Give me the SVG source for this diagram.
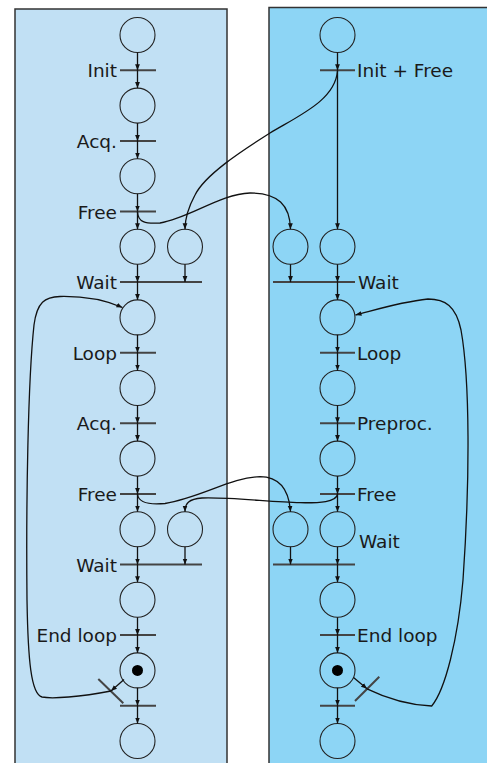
<svg xmlns="http://www.w3.org/2000/svg" width="487" height="763" viewBox="0 0 487 763">
<defs>
<marker id="ah" viewBox="0 0 10 10" refX="10" refY="5" markerWidth="6" markerHeight="6" markerUnits="userSpaceOnUse" orient="auto"><path d="M0,1 L10,5 L0,9 z" fill="#111"/></marker>
<style>
.pl{fill:none;stroke:#222;stroke-width:1.1}
.tr{stroke:#444;stroke-width:2;fill:none}
.arc{stroke:#111;stroke-width:1.3;fill:none;marker-end:url(#ah)}
.cv{stroke:#111;stroke-width:1.4;fill:none}
.lb{font-family:"DejaVu Sans",sans-serif;font-size:18.5px;fill:#1a1a1a}
.le{text-anchor:end}
.tok{fill:#000}
</style>
</defs>
<rect x="15" y="9" width="212" height="770" fill="#c1e0f4" stroke="#333" stroke-width="1.5"/>
<rect x="269" y="7.5" width="230" height="770" fill="#8dd5f5" stroke="#333" stroke-width="1.5"/>

<g id="left-places">
<circle id="L1" class="pl" cx="137.5" cy="35" r="17.5"/>
<circle id="L2" class="pl" cx="137.5" cy="105.6" r="17.5"/>
<circle id="L3" class="pl" cx="137.5" cy="176.2" r="17.5"/>
<circle id="L4" class="pl" cx="137.5" cy="246.8" r="17.5"/>
<circle id="L4b" class="pl" cx="185" cy="246.8" r="17.5"/>
<circle id="L5" class="pl" cx="137.5" cy="317.4" r="17.5"/>
<circle id="L6" class="pl" cx="137.5" cy="388" r="17.5"/>
<circle id="L7" class="pl" cx="137.5" cy="458.6" r="17.5"/>
<circle id="L8" class="pl" cx="137.5" cy="529.2" r="17.5"/>
<circle id="L8b" class="pl" cx="185" cy="529.2" r="17.5"/>
<circle id="L9" class="pl" cx="137.5" cy="599.8" r="17.5"/>
<g id="L10"><circle class="pl" cx="137.5" cy="670.4" r="17.5"/><circle class="tok" cx="137.5" cy="670.4" r="5.5"/></g>
<circle id="L11" class="pl" cx="137.5" cy="741" r="17.5"/>
</g>

<g id="right-places">
<circle id="R1" class="pl" cx="337.5" cy="35" r="17.5"/>
<circle id="R4" class="pl" cx="337.5" cy="246.8" r="17.5"/>
<circle id="R4b" class="pl" cx="290.5" cy="246.8" r="17.5"/>
<circle id="R5" class="pl" cx="337.5" cy="317.4" r="17.5"/>
<circle id="R6" class="pl" cx="337.5" cy="388" r="17.5"/>
<circle id="R7" class="pl" cx="337.5" cy="458.6" r="17.5"/>
<circle id="R8" class="pl" cx="337.5" cy="529.2" r="17.5"/>
<circle id="R8b" class="pl" cx="290.5" cy="529.2" r="17.5"/>
<circle id="R9" class="pl" cx="337.5" cy="599.8" r="17.5"/>
<g id="R10"><circle class="pl" cx="337.5" cy="670.4" r="17.5"/><circle class="tok" cx="337.5" cy="670.4" r="5.5"/></g>
<circle id="R11" class="pl" cx="337.5" cy="741" r="17.5"/>
</g>

<g id="left-transitions">
<g id="tInit"><line class="tr" x1="120" y1="70.3" x2="156" y2="70.3"/><text class="lb le" x="117" y="77.3">Init</text></g>
<g id="tAcq1"><line class="tr" x1="120" y1="140.9" x2="156" y2="140.9"/><text class="lb le" x="117" y="147.9">Acq.</text></g>
<g id="tFree1"><line class="tr" x1="120" y1="211.5" x2="156" y2="211.5"/><text class="lb le" x="117" y="218.5">Free</text></g>
<g id="tWait1"><line class="tr" x1="120" y1="282.1" x2="202" y2="282.1"/><text class="lb le" x="117" y="289.1">Wait</text></g>
<g id="tLoop"><line class="tr" x1="120" y1="352.7" x2="156" y2="352.7"/><text class="lb le" x="117" y="359.7">Loop</text></g>
<g id="tAcq2"><line class="tr" x1="120" y1="423.3" x2="156" y2="423.3"/><text class="lb le" x="117" y="430.3">Acq.</text></g>
<g id="tFree2"><line class="tr" x1="120" y1="493.9" x2="156" y2="493.9"/><text class="lb le" x="117" y="500.9">Free</text></g>
<g id="tWait2"><line class="tr" x1="120" y1="564.5" x2="202" y2="564.5"/><text class="lb le" x="117" y="571.5">Wait</text></g>
<g id="tEnd"><line class="tr" x1="120" y1="635.1" x2="156" y2="635.1"/><text class="lb le" x="117" y="642.1">End loop</text></g>
<g id="tExit"><line class="tr" x1="120" y1="705.7" x2="156" y2="705.7"/></g>
<g id="tBack"><line class="tr" x1="98.3" y1="679" x2="123.3" y2="703.3"/></g>
</g>

<g id="right-transitions">
<g id="rInit"><line class="tr" x1="320" y1="70.3" x2="355" y2="70.3"/><text class="lb" x="357" y="77.3">Init + Free</text></g>
<g id="rWait1"><line class="tr" x1="273" y1="282.1" x2="355" y2="282.1"/><text class="lb" x="358" y="289.1">Wait</text></g>
<g id="rLoop"><line class="tr" x1="320" y1="352.7" x2="355" y2="352.7"/><text class="lb" x="357" y="359.7">Loop</text></g>
<g id="rPre"><line class="tr" x1="320" y1="423.3" x2="355" y2="423.3"/><text class="lb" x="357" y="430.3">Preproc.</text></g>
<g id="rFree"><line class="tr" x1="320" y1="493.9" x2="355" y2="493.9"/><text class="lb" x="357" y="500.9">Free</text></g>
<g id="rWait2"><line class="tr" x1="273" y1="564.5" x2="355" y2="564.5"/><text class="lb" x="359" y="547.5">Wait</text></g>
<g id="rEnd"><line class="tr" x1="320" y1="635.1" x2="355" y2="635.1"/><text class="lb" x="357" y="642.1">End loop</text></g>
<g id="rExit"><line class="tr" x1="320" y1="705.7" x2="355" y2="705.7"/></g>
<g id="rBack"><line class="tr" x1="355" y1="701" x2="379.3" y2="676.7"/></g>
</g>

<g id="connectors">
<!-- left column -->
<path class="arc" d="M137.5,52.5 V70.3"/>
<path class="arc" d="M137.5,70.3 V88.1"/>
<path class="arc" d="M137.5,123.1 V140.9"/>
<path class="arc" d="M137.5,140.9 V158.7"/>
<path class="arc" d="M137.5,193.7 V211.5"/>
<path class="arc" d="M137.5,211.5 V229.3"/>
<path class="arc" d="M137.5,264.3 V282.1"/>
<path class="arc" d="M185,264.3 V282.1"/>
<path class="arc" d="M137.5,282.1 V299.9"/>
<path class="arc" d="M137.5,334.9 V352.7"/>
<path class="arc" d="M137.5,352.7 V370.5"/>
<path class="arc" d="M137.5,405.5 V423.3"/>
<path class="arc" d="M137.5,423.3 V441.1"/>
<path class="arc" d="M137.5,476.1 V493.9"/>
<path class="arc" d="M137.5,493.9 V511.7"/>
<path class="arc" d="M137.5,546.7 V564.5"/>
<path class="arc" d="M185,546.7 V564.5"/>
<path class="arc" d="M137.5,564.5 V582.3"/>
<path class="arc" d="M137.5,617.3 V635.1"/>
<path class="arc" d="M137.5,635.1 V652.9"/>
<path class="arc" d="M137.5,687.9 V705.7"/>
<path class="arc" d="M137.5,705.7 V723.5"/>
<path class="arc" d="M124,679.5 L111,691"/>
<path class="arc" d="M111,691 C80,697 52,699 42,697 C31,694 28,660 27,600 C26,500 28,380 34,325 C37,302 45,297 60,296.5 C85,296 105,300 122.5,307.5"/>
<!-- right column -->
<path class="arc" d="M337.5,52.5 V70.3"/>
<path class="arc" d="M337.5,70.3 V229.3"/>
<path class="arc" d="M290.5,264.3 V282.1"/>
<path class="arc" d="M337.5,264.3 V282.1"/>
<path class="arc" d="M337.5,282.1 V299.9"/>
<path class="arc" d="M337.5,334.9 V352.7"/>
<path class="arc" d="M337.5,352.7 V370.5"/>
<path class="arc" d="M337.5,405.5 V423.3"/>
<path class="arc" d="M337.5,423.3 V441.1"/>
<path class="arc" d="M337.5,476.1 V493.9"/>
<path class="arc" d="M337.5,493.9 V511.7"/>
<path class="arc" d="M337.5,546.7 V564.5"/>
<path class="arc" d="M290.5,546.7 V564.5"/>
<path class="arc" d="M337.5,564.5 V582.3"/>
<path class="arc" d="M337.5,617.3 V635.1"/>
<path class="arc" d="M337.5,635.1 V652.9"/>
<path class="arc" d="M337.5,687.9 V705.7"/>
<path class="arc" d="M337.5,705.7 V723.5"/>
<path class="arc" d="M353.5,677.5 L367,688.8"/>
<path class="arc" d="M367,688.8 C390,700 410,705 431.7,706 C445,690 458,640 463,580 C470,480 470,380 461,330 C456,306 445,299 428,299 C400,302 375,310 355.5,315"/>
<!-- cross connections -->
<path class="arc" d="M337.5,71 C335,100 300,115 270,133 C240,152 205,175 195,195 C188,208 185,218 185,229.3"/>
<path class="arc" d="M137.5,212 C138,222 145,224 160,223 C190,218 220,194 250,193 C278,193 290,205 290.5,229.3"/>
<path class="arc" d="M137.5,494.5 C139,503 150,505 165,503.5 C200,498 232,477 260,476.7 C280,477 289,490 290.5,511.7"/>
<path class="arc" d="M337.5,494.5 C336,502 320,503 300,502.7 C270,502 230,497 202,498 C189,499 185,503 185,511.7"/>
</g>
</svg>
